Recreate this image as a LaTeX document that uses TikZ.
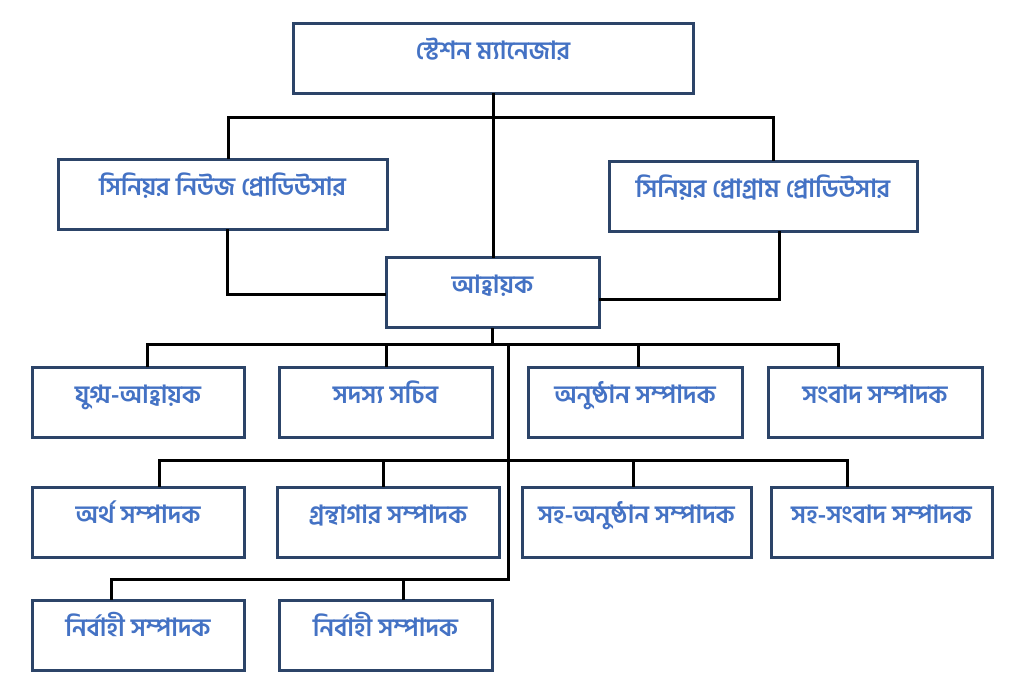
\documentclass[tikz,border=0pt]{standalone}
\usepackage{fontspec}
\newfontfamily\bnfont[Script=Bengali]{Hind Siliguri}
\definecolor{boxc}{RGB}{44,68,104}
\definecolor{txtc}{RGB}{68,114,196}
\newcommand\bntxt[1]{\raisebox{-1pt}[0pt][0pt]{#1}}
\tikzset{
  box/.style={draw=boxc, line width=3pt, fill=white, minimum width=#1, minimum height=70pt,
    inner sep=0pt, text=txtc, font=\bnfont\bfseries\fontsize{25}{28}\selectfont},
  conn/.style={draw=black, line width=3pt, line cap=rect}
}
\begin{document}
\begin{tikzpicture}[x=1pt,y=-1pt]
\useasboundingbox (0,0) rectangle (1032,696);
% boxes
\node[box=400] (sm) at (493,58) {\bntxt{স্টেশন ম্যানেজার}};
\node[box=329] (news) at (222.5,194) {\bntxt{সিনিয়র নিউজ প্রোডিউসার}};
\node[box=308] (prog) at (763,196) {\bntxt{সিনিয়র প্রোগ্রাম প্রোডিউসার}};
\node[box=213] (ahb) at (492.5,292.5) {\bntxt{আহ্বায়ক}};
\node[box=212] (r1a) at (138,402) {\bntxt{যুগ্ম-আহ্বায়ক}};
\node[box=213] (r1b) at (385.5,402) {\bntxt{সদস্য সচিব}};
\node[box=214] (r1c) at (635,402) {\bntxt{অনুষ্ঠান সম্পাদক}};
\node[box=214] (r1d) at (875,402) {\bntxt{সংবাদ সম্পাদক}};
\node[box=212] (r2a) at (138,522) {\bntxt{অর্থ সম্পাদক}};
\node[box=222] (r2b) at (388,522) {\bntxt{গ্রন্থাগার সম্পাদক}};
\node[box=229] (r2c) at (636.5,522) {\bntxt{সহ-অনুষ্ঠান সম্পাদক}};
\node[box=221] (r2d) at (881.5,522) {\bntxt{সহ-সংবাদ সম্পাদক}};
\node[box=212] (r3a) at (138,635) {\bntxt{নির্বাহী সম্পাদক}};
\node[box=213] (r3b) at (385.5,635) {\bntxt{নির্বাহী সম্পাদক}};
% junction coordinates
\coordinate (t1) at (228,117);
\coordinate (t2) at (773,117);
\coordinate (n1) at (227,294);
\coordinate (p1) at (779,299);
\coordinate (a1) at (147,344);
\coordinate (a2) at (386,344);
\coordinate (a3) at (638,344);
\coordinate (a4) at (838,344);
\coordinate (k1) at (508,344);
\coordinate (k3) at (508,579);
\coordinate (b1) at (159,460);
\coordinate (b2) at (383,460);
\coordinate (b3) at (633,460);
\coordinate (b4) at (847,460);
\coordinate (c1) at (111,579);
\coordinate (c2) at (403,579);
% connectors
\draw[conn] (sm.south) -- (sm.south |- ahb.north);
\draw[conn] (news.north -| t1) -- (t1) -- (t2) -- (prog.north -| t2);
\draw[conn] (news.south -| n1) -- (n1) -- (ahb.west |- n1);
\draw[conn] (prog.south -| p1) -- (p1) -- (ahb.east |- p1);
\draw[conn] (ahb.south) -- (ahb.south |- a1);
\draw[conn] (r1a.north -| a1) -- (a1) -- (a4) -- (r1d.north -| a4);
\draw[conn] (a2) -- (r1b.north -| a2);
\draw[conn] (a3) -- (r1c.north -| a3);
\draw[conn] (k1) -- (k3);
\draw[conn] (r2a.north -| b1) -- (b1) -- (b4) -- (r2d.north -| b4);
\draw[conn] (b2) -- (r2b.north -| b2);
\draw[conn] (b3) -- (r2c.north -| b3);
\draw[conn] (r3a.north -| c1) -- (c1) -- (k3);
\draw[conn] (c2) -- (r3b.north -| c2);
\end{tikzpicture}
\end{document}
